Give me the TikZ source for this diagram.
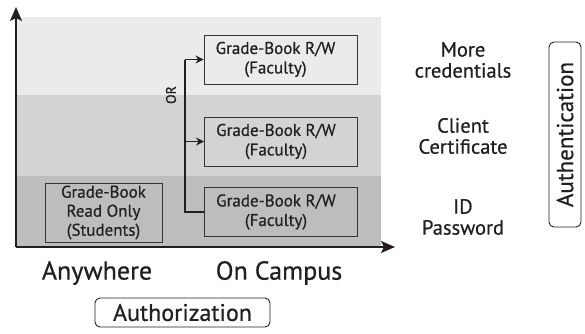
\documentclass[tikz,border=0pt]{standalone}
\usepackage{fontspec}
\setmainfont{PT Sans}[UprightFeatures={FakeBold=0.6}]
\usetikzlibrary{arrows.meta}
\definecolor{bandA}{HTML}{EBEBEB}
\definecolor{bandB}{HTML}{D3D3D3}
\definecolor{bandC}{HTML}{BDBDBD}
\definecolor{edge}{HTML}{333333}
\definecolor{ink}{HTML}{231F20}
\newcommand{\lft}{\hspace*{-10pt}}
\tikzset{
  gbox/.style={draw=edge, line width=0.9pt, minimum width=153pt, minimum height=49pt, align=center, font=\fontsize{17}{19.5}\selectfont, inner sep=0pt, text=ink},
  sbox/.style={draw=edge, line width=0.9pt, minimum width=117pt, minimum height=59pt, align=center, font=\fontsize{17}{19}\selectfont, inner sep=0pt, text=ink},
  lbl/.style={align=center, font=\fontsize{20.5}{21}\selectfont, text=ink},
  big/.style={font=\fontsize{26}{28}\selectfont, text=ink},
  rbox/.style={draw=ink, rounded corners=5pt, line width=0.9pt, text=ink},
  conn/.style={line width=1.9pt, draw=ink},
  arr/.style={-{Stealth[length=8pt,width=8pt]}},
  axis/.style={line width=2pt, draw=ink, -{Stealth[length=14pt,width=12pt,inset=3pt]}}
}
\begin{document}
\begin{tikzpicture}[x=1pt,y=-1pt]
\useasboundingbox (0,0) rectangle (585,333);
% bands
\fill[bandA] (17,17) rectangle (381,95);
\fill[bandB] (17,95) rectangle (381,176);
\fill[bandC] (17,176) rectangle (381,247);
% axes
\coordinate (o) at (16,247);
\coordinate (ytip) at (16,7);
\coordinate (xtip) at (395,247);
\draw[axis] (o) -- (ytip);
\draw[axis] (o) -- (xtip);
% boxes
\node[gbox] (top) at (280.5,59.5) {\lft Grade-Book R/W\\\lft(Faculty)};
\node[gbox] (mid) at (281,141.5) {\lft Grade-Book R/W\\\lft(Faculty)};
\node[gbox] (bot) at (281,212) {\lft Grade-Book R/W\\\lft(Faculty)};
\node[sbox] (stu) at (103.5,212.5) {Grade-Book\\Read Only\\(Students)};
% connector
\coordinate (ct) at (185,59.5);
\coordinate (cm) at (185,141.5);
\coordinate (cb) at (185,212);
\draw[conn] (bot.west) -- (cb) -- (ct);
\draw[conn,arr] (ct) -- (top.west);
\draw[conn,arr] (cm) -- (mid.west);
\node[rotate=90, font=\fontsize{14}{16}\selectfont, text=ink] (or) at (171,95) {OR};
% right labels
\node[lbl] (l1) at (463,60) {More\\credentials};
\node[lbl] (l2) at (463,136) {Client\\Certificate};
\node[lbl] (l3) at (463,217) {ID\\Password};
\node[rbox, rotate=90, minimum width=185pt, minimum height=32pt, inner sep=0pt, font=\fontsize{23}{25}\selectfont] (auth) at (565,134.5) {Authentication};
% bottom labels
\node[big] (any) at (97,273) {Anywhere};
\node[big] (camp) at (279,273) {On Campus};
\node[rbox, minimum width=175pt, minimum height=29pt, inner sep=0pt, font=\fontsize{24}{26}\selectfont] (authz) at (182.5,312.5) {Authorization};
\end{tikzpicture}
\end{document}
